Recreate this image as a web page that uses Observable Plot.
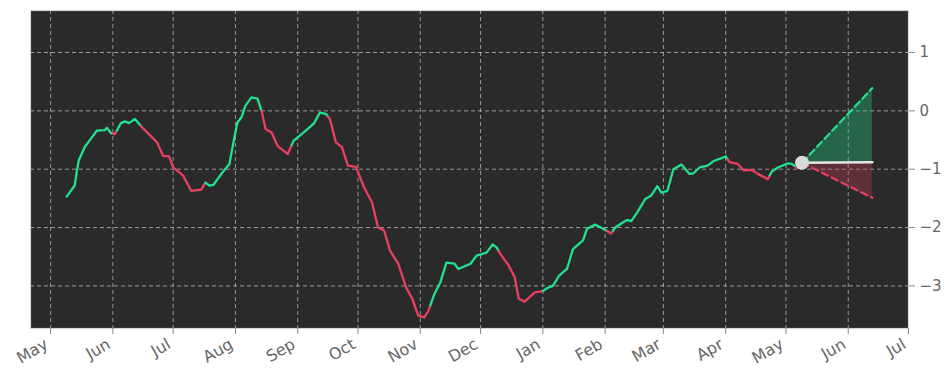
<!DOCTYPE html>
<html><head><meta charset="utf-8">
<script src="https://cdn.jsdelivr.net/npm/d3@7"></script>
<script src="https://cdn.jsdelivr.net/npm/@observablehq/plot@0.6"></script>
<style>
  html,body{margin:0;padding:0;background:#ffffff;}
  #chart{width:952px;height:381px;}
</style>
</head><body><div id="chart"></div>
<script>
// ---- data ----
const dates = ["2023-05-09","2023-05-13","2023-05-14","2023-05-15","2023-05-18","2023-05-21","2023-05-24","2023-05-28","2023-05-29","2023-05-31",
"2023-06-02","2023-06-05","2023-06-07","2023-06-09","2023-06-12","2023-06-16","2023-06-19","2023-06-23","2023-06-26","2023-06-29",
"2023-07-01","2023-07-06","2023-07-10","2023-07-15","2023-07-17","2023-07-19","2023-07-21","2023-07-25","2023-07-29","2023-07-31",
"2023-08-02","2023-08-04","2023-08-06","2023-08-09","2023-08-12","2023-08-14","2023-08-16","2023-08-19","2023-08-22","2023-08-27",
"2023-08-30","2023-09-04","2023-09-09","2023-09-12","2023-09-15","2023-09-17","2023-09-20","2023-09-23","2023-09-26","2023-09-30",
"2023-10-04","2023-10-08","2023-10-11","2023-10-14","2023-10-17","2023-10-21","2023-10-25","2023-10-28","2023-10-31","2023-11-03",
"2023-11-05","2023-11-08","2023-11-11","2023-11-14","2023-11-18","2023-11-20","2023-11-26","2023-11-29","2023-12-04","2023-12-07",
"2023-12-09","2023-12-11","2023-12-15","2023-12-18","2023-12-20","2023-12-23","2023-12-28","2024-01-01","2024-01-03","2024-01-06",
"2024-01-09","2024-01-13","2024-01-16","2024-01-21","2024-01-23","2024-01-27","2024-01-31","2024-02-04","2024-02-06","2024-02-10",
"2024-02-12","2024-02-14","2024-02-17","2024-02-21","2024-02-24","2024-02-27","2024-02-29","2024-03-03","2024-03-06","2024-03-10",
"2024-03-14","2024-03-16","2024-03-19","2024-03-23","2024-03-26","2024-03-30","2024-04-01","2024-04-03","2024-04-07","2024-04-10",
"2024-04-14","2024-04-17","2024-04-22","2024-04-24","2024-04-27","2024-05-02","2024-05-04","2024-05-07","2024-05-09"];
const values = [-1.47,-1.28,-1.05,-0.85,-0.62,-0.48,-0.34,-0.33,-0.29,-0.38,
-0.40,-0.21,-0.18,-0.21,-0.14,-0.30,-0.40,-0.54,-0.77,-0.78,
-0.97,-1.11,-1.37,-1.35,-1.23,-1.28,-1.27,-1.08,-0.91,-0.54,
-0.20,-0.11,0.09,0.23,0.21,0.00,-0.31,-0.37,-0.60,-0.74,
-0.51,-0.37,-0.22,-0.03,-0.05,-0.14,-0.54,-0.62,-0.94,-0.96,
-1.31,-1.57,-2.00,-2.05,-2.40,-2.62,-3.03,-3.22,-3.51,-3.54,
-3.43,-3.14,-2.94,-2.60,-2.62,-2.71,-2.62,-2.48,-2.43,-2.29,
-2.34,-2.46,-2.65,-2.85,-3.22,-3.27,-3.11,-3.09,-3.04,-3.00,
-2.83,-2.71,-2.37,-2.22,-2.02,-1.95,-2.02,-2.10,-2.00,-1.91,
-1.87,-1.89,-1.74,-1.51,-1.45,-1.29,-1.40,-1.37,-1.00,-0.92,
-1.08,-1.07,-0.97,-0.94,-0.86,-0.81,-0.78,-0.88,-0.91,-1.02,
-1.01,-1.08,-1.17,-1.04,-0.97,-0.90,-0.91,-0.98,-0.89];

// trend regimes: date where the colour switches, and the new direction
const regimeStarts = ["2023-05-01","2023-06-01","2023-06-03","2023-06-15","2023-07-17","2023-08-14","2023-08-29","2023-09-16",
"2023-11-06","2023-12-10","2024-01-01","2024-02-02","2024-02-05","2024-04-02","2024-04-23","2024-05-06"];
const regimeDirs = ["up","down","up","down","up","down","up","down","up","down","up","down","up","down","up","down"];

// forecast cone
const forecastDates = ["2024-05-09","2024-06-13"];
const forecastUpper = [-0.89, 0.39];
const forecastMid = [-0.89, -0.88];
const forecastLower = [-0.89, -1.49];

const yTicks = [1, 0, -1, -2, -3];
const monthLabels = ["May","Jun","Jul","Aug","Sep","Oct","Nov","Dec","Jan","Feb","Mar","Apr","May","Jun","Jul"];
const xDomain = ["2023-04-21", "2024-07-01"];
const yDomain = [-3.73, 1.72];

// ---- styling ----
const GREEN = "#1fe28f";
const RED = "#e8405f";
const parse = d3.utcParse("%Y-%m-%d");

// ---- build coloured segments ----
const rStarts = regimeStarts.map(parse);
function dirAt(t) {
  let d = regimeDirs[0];
  for (let i = 0; i < rStarts.length; i++) if (+rStarts[i] <= +t) d = regimeDirs[i];
  return d;
}
const pts = dates.map((d, i) => ({date: parse(d), value: values[i]}));
const dense = [];
for (let i = 0; i < pts.length; i++) {
  if (i > 0) {
    const a = pts[i - 1], b = pts[i];
    for (const s of rStarts) {
      if (+s > +a.date && +s < +b.date) {
        const f = (s - a.date) / (b.date - a.date);
        dense.push({date: s, value: a.value + f * (b.value - a.value)});
      }
    }
  }
  dense.push(pts[i]);
}
const segRows = [];
let seg = -1, prevDir = null;
for (let i = 0; i < dense.length - 1; i++) {
  const a = dense[i], b = dense[i + 1];
  const mid = new Date((+a.date + +b.date) / 2);
  const dir = dirAt(mid);
  if (dir !== prevDir) {
    seg++;
    prevDir = dir;
    segRows.push({date: a.date, value: a.value, seg, dir});
  }
  segRows.push({date: b.date, value: b.value, seg, dir});
}

const fc = forecastDates.map((d, i) => ({date: parse(d), upper: forecastUpper[i], mid: forecastMid[i], lower: forecastLower[i]}));
const months = d3.utcMonth.range(parse("2023-05-01"), parse("2024-07-02"));
const monthRows = months.map((m, i) => ({date: m, label: monthLabels[i]}));

const chart = Plot.plot({
  width: 952,
  height: 381,
  marginLeft: 30,
  marginRight: 44,
  marginTop: 10,
  marginBottom: 53,
  style: {fontFamily: "DejaVu Sans, sans-serif", fontSize: "15px", color: "#666", background: "#ffffff"},
  x: {type: "utc", domain: xDomain.map(parse)},
  y: {domain: yDomain},
  marks: [
    Plot.frame({fill: "#2a2a2a", stroke: null}),
    Plot.gridX(months, {stroke: "#c8c8c8", strokeOpacity: 0.7, strokeDasharray: "4,3", strokeWidth: 1}),
    Plot.gridY(yTicks, {stroke: "#c8c8c8", strokeOpacity: 0.7, strokeDasharray: "4,3", strokeWidth: 1}),
    Plot.areaY(fc, {x: "date", y1: "mid", y2: "upper", fill: GREEN, fillOpacity: 0.32}),
    Plot.areaY(fc, {x: "date", y1: "mid", y2: "lower", fill: RED, fillOpacity: 0.28}),
    Plot.line(segRows, {x: "date", y: "value", z: "seg", stroke: d => d.dir === "up" ? GREEN : RED, strokeWidth: 2.3, curve: "linear"}),
    Plot.line(fc, {x: "date", y: "upper", stroke: GREEN, strokeWidth: 2.2, strokeDasharray: "7,4"}),
    Plot.line(fc, {x: "date", y: "lower", stroke: RED, strokeWidth: 2.2, strokeDasharray: "7,4"}),
    Plot.line(fc, {x: "date", y: "mid", stroke: "#e6e6e6", strokeWidth: 2.5}),
    Plot.dot(fc.slice(0, 1), {x: "date", y: "mid", r: 7, fill: "#d9d9d9", stroke: null}),
    Plot.frame({stroke: "#d4d4d4", strokeWidth: 1.2}),
    Plot.axisX(months, {tickFormat: () => "", tickSize: 6, stroke: "#888", label: null}),
    Plot.text(monthRows, {x: "date", text: "label", frameAnchor: "bottom", dx: -7, dy: 9, lineAnchor: "top", textAnchor: "end", rotate: -30, fontSize: 16, fill: "#666", fontFamily: "DejaVu Sans"}),
    Plot.axisY(yTicks, {anchor: "right", tickFormat: d3.format("d"), tickSize: 6, tickPadding: 5, stroke: "#888", fill: "#666", label: null})
  ]
});
document.getElementById("chart").appendChild(chart);
</script>
</body></html>
